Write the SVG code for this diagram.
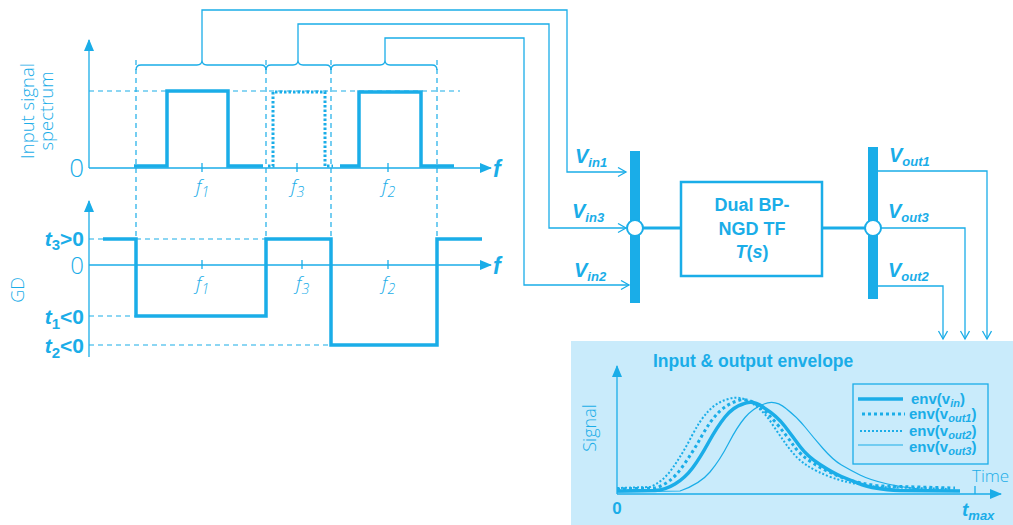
<svg xmlns="http://www.w3.org/2000/svg" width="1013" height="525" viewBox="0 0 1013 525">
<defs>
<style>
.ln{fill:none;stroke:#1aade8;stroke-width:1.3}
.dash{fill:none;stroke:#1aade8;stroke-width:1.2;stroke-dasharray:5,4}
.thk{fill:none;stroke:#1aade8;stroke-width:3.5}
.thkdot{fill:none;stroke:#1aade8;stroke-width:3;stroke-dasharray:2.5,2}
.lt{font-family:"Open Sans","Liberation Sans",sans-serif;font-weight:300;fill:#1aade8}
.bd{font-family:"Liberation Sans","Open Sans",sans-serif;font-weight:bold;fill:#1aade8}
.bi{font-family:"Liberation Sans","Open Sans",sans-serif;font-weight:bold;font-style:italic;fill:#1aade8}
.it{font-family:"Open Sans","Liberation Sans",sans-serif;font-weight:300;font-style:italic;fill:#1aade8}
</style>
<marker id="open" markerWidth="12" markerHeight="12" refX="9" refY="5" orient="auto" markerUnits="userSpaceOnUse">
<path d="M1,0.5 L9,5 L1,9.5" fill="none" stroke="#1aade8" stroke-width="1.3"/>
</marker>
<marker id="fill" markerWidth="14" markerHeight="12" refX="11" refY="5" orient="auto" markerUnits="userSpaceOnUse">
<path d="M0,0 L12,5 L0,10 Z" fill="#1aade8"/>
</marker>
</defs>
<rect width="1013" height="525" fill="#ffffff"/>

<!-- Spectrum plot -->
<g id="spectrum">
<line class="ln" x1="89" y1="168" x2="89" y2="40" marker-end="url(#fill)"/>
<line class="ln" x1="89" y1="168" x2="491" y2="168" marker-end="url(#fill)"/>
<line class="dash" x1="89" y1="91" x2="460" y2="91"/>
<line class="dash" x1="136" y1="60" x2="136" y2="239"/>
<line class="dash" x1="266" y1="60" x2="266" y2="239"/>
<line class="dash" x1="331" y1="60" x2="331" y2="239"/>
<line class="dash" x1="437" y1="60" x2="437" y2="239"/>
<path class="ln" d="M136,70 Q136,65 141,65 L197,65 Q202,65 202,60 Q202,65 207,65 L261,65 Q266,65 266,70"/>
<path class="ln" d="M266,70 Q266,65 271,65 L293,65 Q298,65 298,60 Q298,65 303,65 L326,65 Q331,65 331,70"/>
<path class="ln" d="M331,70 Q331,65 336,65 L380,65 Q385,65 385,60 Q385,65 390,65 L432,65 Q437,65 437,70"/>
<path class="thk" d="M134,166 H167 V91 H228 V166 H263"/>
<path class="thkdot" d="M268,166 H273 V92 H325 V166 H333"/>
<path class="thk" d="M340,166 H359 V92 H421 V166 H454"/>
<line class="ln" x1="202" y1="163" x2="202" y2="172"/>
<line class="ln" x1="297" y1="163" x2="297" y2="172"/>
<line class="ln" x1="388" y1="163" x2="388" y2="172"/>
<text class="it" x="196" y="193" font-size="19">f<tspan font-size="14" dy="4">1</tspan></text>
<text class="it" x="291" y="193" font-size="19">f<tspan font-size="14" dy="4">3</tspan></text>
<text class="it" x="382" y="193" font-size="19">f<tspan font-size="14" dy="4">2</tspan></text>
<text class="lt" x="84" y="177" font-size="26" text-anchor="end">0</text>
<text class="bi" x="493" y="177" font-size="23">f</text>
<text class="lt" font-size="18.5" text-anchor="middle" transform="translate(34,111) rotate(-90)">Input signal</text>
<text class="lt" font-size="18.5" text-anchor="middle" transform="translate(53,111) rotate(-90)">spectrum</text>
</g>

<!-- GD plot -->
<g id="gd">
<line class="ln" x1="89" y1="357" x2="89" y2="201" marker-end="url(#fill)"/>
<line class="ln" x1="89" y1="265" x2="491" y2="265" marker-end="url(#fill)"/>
<line class="dash" x1="89" y1="239" x2="103" y2="239"/>
<line class="dash" x1="136" y1="239" x2="266" y2="239"/>
<line class="dash" x1="89" y1="316" x2="136" y2="316"/>
<line class="dash" x1="89" y1="345" x2="331" y2="345"/>
<path class="thk" d="M103,239 H136 V316 H266 V239 H331 V345 H437 V239 H482"/>
<line class="ln" x1="202" y1="260" x2="202" y2="269"/>
<line class="ln" x1="302" y1="260" x2="302" y2="269"/>
<line class="ln" x1="388" y1="260" x2="388" y2="269"/>
<text class="it" x="196" y="290" font-size="19">f<tspan font-size="14" dy="4">1</tspan></text>
<text class="it" x="296" y="290" font-size="19">f<tspan font-size="14" dy="4">3</tspan></text>
<text class="it" x="382" y="290" font-size="19">f<tspan font-size="14" dy="4">2</tspan></text>
<text class="bi" x="493" y="274" font-size="23">f</text>
<text class="lt" x="84" y="274" font-size="24" text-anchor="end">0</text>
<text class="bd" x="84" y="246" font-size="21" text-anchor="end"><tspan font-style="italic">t</tspan><tspan font-size="15" dy="4">3</tspan><tspan dy="-4">&gt;0</tspan></text>
<text class="bd" x="84" y="324" font-size="21" text-anchor="end"><tspan font-style="italic">t</tspan><tspan font-size="15" dy="5">1</tspan><tspan dy="-5">&lt;0</tspan></text>
<text class="bd" x="84" y="353" font-size="21" text-anchor="end"><tspan font-style="italic">t</tspan><tspan font-size="15" dy="5">2</tspan><tspan dy="-5">&lt;0</tspan></text>
<text class="lt" font-size="18" text-anchor="middle" transform="translate(24,290) rotate(-90)">GD</text>
</g>

<!-- Connectors -->
<g id="connectors">
<path class="ln" d="M202,60 V10 H567 V172 H626" marker-end="url(#open)"/>
<path class="ln" d="M298,60 V24 H549 V228 H626" marker-end="url(#open)"/>
<path class="ln" d="M385,60 V38 H524 V285 H629" marker-end="url(#open)"/>
<line x1="643" y1="228" x2="681" y2="228" stroke="#1aade8" stroke-width="3"/>
<line x1="822" y1="228" x2="865" y2="228" stroke="#1aade8" stroke-width="3"/>
<path class="ln" d="M878,171 H987 V339" marker-end="url(#open)"/>
<path class="ln" d="M881,228 H965 V339" marker-end="url(#open)"/>
<path class="ln" d="M878,286 H943 V339" marker-end="url(#open)"/>
</g>

<!-- Input bus -->
<g id="input-bus">
<rect x="630" y="151" width="10" height="152" fill="#1aade8"/>
<circle cx="635" cy="228" r="8" fill="#ffffff" stroke="#1aade8" stroke-width="2"/>
<text class="bi" x="575" y="163" font-size="20">V<tspan font-size="13" dy="4">in1</tspan></text>
<text class="bi" x="572" y="218" font-size="20">V<tspan font-size="13" dy="4">in3</tspan></text>
<text class="bi" x="574" y="277" font-size="20">V<tspan font-size="13" dy="4">in2</tspan></text>
</g>

<!-- Transfer function block -->
<g id="tf-block">
<rect x="681" y="182" width="141" height="94" fill="#ffffff" stroke="#1aade8" stroke-width="2.5"/>
<text class="bd" x="752" y="211" font-size="18" text-anchor="middle">Dual BP-</text>
<text class="bd" x="752" y="235" font-size="18" text-anchor="middle">NGD TF</text>
<text class="bd" x="752" y="258" font-size="18" text-anchor="middle"><tspan font-style="italic">T</tspan>(<tspan font-style="italic">s</tspan>)</text>
</g>

<!-- Output bus -->
<g id="output-bus">
<rect x="868" y="147" width="10" height="152" fill="#1aade8"/>
<circle cx="873" cy="228" r="8" fill="#ffffff" stroke="#1aade8" stroke-width="2"/>
<text class="bi" x="889" y="162" font-size="20">V<tspan font-size="13" dy="4">out1</tspan></text>
<text class="bi" x="888" y="218" font-size="20">V<tspan font-size="13" dy="4">out3</tspan></text>
<text class="bi" x="888" y="277" font-size="20">V<tspan font-size="13" dy="4">out2</tspan></text>
</g>

<!-- Envelope panel -->
<g id="envelope-panel">
<rect x="571" y="341" width="442" height="184" fill="#c9ebfb"/>
<text class="bd" x="653" y="367" font-size="17.5">Input &amp; output envelope</text>
<line class="ln" x1="617" y1="494" x2="617" y2="366" marker-end="url(#fill)"/>
<line class="ln" x1="617" y1="494" x2="1001" y2="494" marker-end="url(#fill)"/>
<line class="ln" x1="975" y1="486" x2="975" y2="494"/>
<text class="lt" font-size="18" text-anchor="middle" transform="translate(596,428) rotate(-90)">Signal</text>
<text class="lt" x="972" y="482" font-size="17">Time</text>
<text class="bd" x="617" y="514" font-size="17" text-anchor="middle">0</text>
<text class="bi" x="962" y="516" font-size="19">t<tspan font-size="13" dy="4">max</tspan></text>
<path fill="none" stroke="#1aade8" stroke-width="1.2" d="M617,492 L680,491 Q700,484 710,472 Q720,460 728.5,443.5 Q737,427 745,417.5 Q753,408 764,404 Q775,399 786,408.5 Q797,417 805,427 Q813,437 823,448.5 Q833,460 841.5,465 Q850,470 860,475 Q870,480 887.5,484 Q905,488 930,490 L960,491"/>
<path fill="none" stroke="#1aade8" stroke-width="2" stroke-dasharray="2,2" d="M617,488 L650,487 Q663,482 673,467.5 Q683,453 691.5,436.5 Q700,420 708.5,411 Q717,402 728.5,399 Q740,395 751.5,403 Q763,410 771.5,423 Q780,436 788.5,447.5 Q797,459 807,465.5 Q817,472 833.5,478 Q850,484 880,487 L950,489"/>
<path fill="none" stroke="#1aade8" stroke-width="3" stroke-dasharray="3,3" d="M617,489 L655,488 Q670,484 681.5,468 Q693,452 701.5,436.5 Q710,421 718.5,412.5 Q727,404 737,401 Q747,397 757,405 Q767,412 777,424 Q787,436 793.5,445.5 Q800,455 813.5,463.5 Q827,472 843.5,478 Q860,484 880,486 L955,488"/>
<path fill="none" stroke="#1aade8" stroke-width="3.5" d="M617,491 L655,490.5 Q665,490 675,484 Q685,478 692.5,468 Q700,458 708.5,442.5 Q717,427 725,417 Q733,407 743,404 Q753,399 765,408.5 Q777,416 785,426.5 Q793,437 800,446.5 Q807,456 820,464.5 Q833,473 841.5,476.5 Q850,480 861.5,484.5 Q873,489 900,490.5 L960,491"/>
<rect x="853" y="384" width="135" height="80" fill="none" stroke="#1aade8" stroke-width="1.3"/>
<line x1="858" y1="399" x2="903" y2="399" stroke="#1aade8" stroke-width="3.5"/>
<line x1="862" y1="414" x2="905" y2="414" stroke="#1aade8" stroke-width="3" stroke-dasharray="3,3"/>
<line x1="860" y1="431" x2="904" y2="431" stroke="#1aade8" stroke-width="2" stroke-dasharray="2,2"/>
<line x1="858" y1="445" x2="903" y2="445" stroke="#1aade8" stroke-width="1.2"/>
<text class="bd" x="911" y="404" font-size="15">env(v<tspan font-size="11" font-style="italic" dy="3">in</tspan><tspan dy="-3">)</tspan></text>
<text class="bd" x="909" y="419" font-size="15">env(v<tspan font-size="11" font-style="italic" dy="3">out1</tspan><tspan dy="-3">)</tspan></text>
<text class="bd" x="909" y="436" font-size="15">env(v<tspan font-size="11" font-style="italic" dy="3">out2</tspan><tspan dy="-3">)</tspan></text>
<text class="bd" x="909" y="452" font-size="15">env(v<tspan font-size="11" font-style="italic" dy="3">out3</tspan><tspan dy="-3">)</tspan></text>
</g>
</svg>
